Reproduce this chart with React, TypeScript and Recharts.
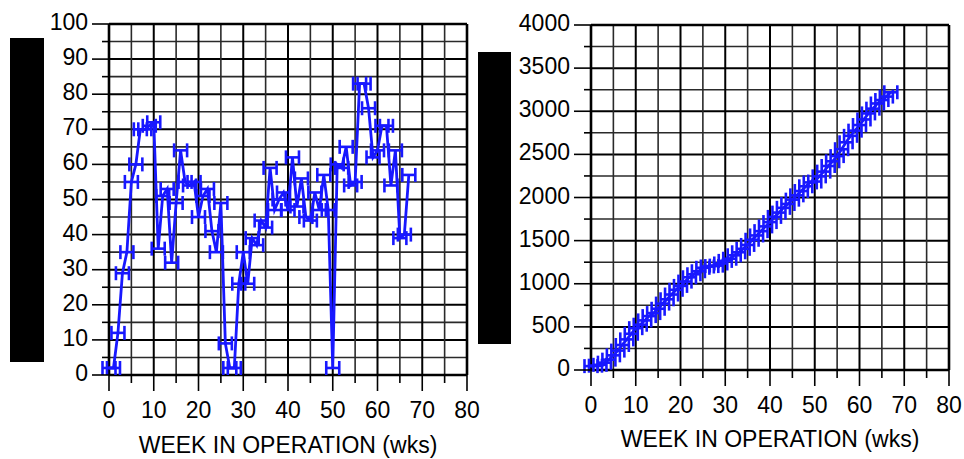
import { ScatterChart, Scatter, XAxis, YAxis, CartesianGrid, ReferenceLine } from 'recharts';

// weeks of operation (both panels share them)
const WEEKS = [
  0, 1, 2, 3, 4, 5, 6, 7, 8, 9, 10, 11, 12, 13, 14, 15, 16, 17, 18, 19, 20, 21, 22, 23,
  24, 25, 26, 27, 28, 29, 30, 31, 32, 33, 34, 35, 36, 37, 38, 39, 40, 41, 42, 43, 44, 45, 46, 47,
  48, 49, 50, 51, 52, 53, 54, 55, 56, 57, 58, 59, 60, 61, 62, 63, 64, 65, 66, 67,
];

// left panel: weekly value
const WEEKLY_VALUES = [
  2, 2, 12, 29, 35, 55, 60, 70, 70, 71, 72, 36, 51, 53, 32, 49, 64, 55, 54, 55, 45, 51, 53, 41,
  35, 49, 9, 2, 2, 26, 35, 26, 39, 37, 44, 42, 59, 47, 50, 52, 47, 62, 48, 56, 45, 44, 52, 47,
  57, 47, 2, 60, 59, 65, 54, 55, 83, 83, 76, 62, 64, 71, 71, 54, 64, 39, 40, 57,
];

// right panel: running total
const CUMULATIVE_VALUES = [
  45, 50, 60, 85, 120, 170, 225, 290, 355, 420, 485, 525, 575, 625, 660, 710, 770, 820, 875, 930,
  975, 1025, 1075, 1110, 1145, 1185, 1200, 1205, 1210, 1235, 1265, 1290, 1330, 1365, 1405, 1450,
  1510, 1560, 1610, 1665, 1715, 1775, 1825, 1880, 1925, 1975, 2025, 2075, 2130, 2175, 2185, 2245,
  2300, 2365, 2420, 2480, 2560, 2640, 2715, 2775, 2840, 2905, 2975, 3030, 3090, 3130, 3170, 3220,
];

const X_TICKS = [0, 5, 10, 15, 20, 25, 30, 35, 40, 45, 50, 55, 60, 65, 70, 75, 80];
const WEEKLY_TICKS = [0, 5, 10, 15, 20, 25, 30, 35, 40, 45, 50, 55, 60, 65, 70, 75, 80, 85, 90, 95, 100];
const CUMULATIVE_TICKS = [
  0, 250, 500, 750, 1000, 1250, 1500, 1750, 2000, 2250, 2500, 2750, 3000, 3250, 3500, 3750, 4000,
];

const X_LABEL = 'WEEK IN OPERATION (wks)';

const BLUE = '#1818ff';
const FONT = '"Liberation Sans", Arial, sans-serif';

const weeklyData = WEEKS.map((week, i) => ({ week, value: WEEKLY_VALUES[i] }));
const cumulativeData = WEEKS.map((week, i) => ({ week, value: CUMULATIVE_VALUES[i] }));

// H-shaped marker: horizontal bar with end caps
function HMark({ cx, cy }: any) {
  if (cx == null || cy == null) return <g />;
  const hw = 6.5;
  const hh = 7;
  return (
    <g stroke={BLUE} strokeWidth={2.6} fill="none">
      <line x1={cx - hw} y1={cy} x2={cx + hw} y2={cy} />
      <line x1={cx - hw} y1={cy - hh} x2={cx - hw} y2={cy + hh} />
      <line x1={cx + hw} y1={cy - hh} x2={cx + hw} y2={cy + hh} />
    </g>
  );
}

function XTick({ x, y, payload }: any) {
  const major = payload.value % 10 === 0;
  return (
    <g>
      <line x1={x} y1={y} x2={x} y2={y + (major ? 16 : 8)} stroke="#000" strokeWidth={1.6} />
      {major && (
        <text x={x} y={y + 43} textAnchor="middle" fontSize={23} fontFamily={FONT} fill="#000">
          {payload.value}
        </text>
      )}
    </g>
  );
}

function makeYTick(step: number) {
  return function YTick({ x, y, payload }: any) {
    const major = payload.value % step === 0;
    return (
      <g>
        <line x1={x - (major ? 17 : 7)} y1={y} x2={x} y2={y} stroke="#000" strokeWidth={1.6} />
        {major && (
          <text x={x - 21} y={y + 6} textAnchor="end" fontSize={23} fontFamily={FONT} fill="#000">
            {payload.value}
          </text>
        )}
      </g>
    );
  };
}

const gridLine = (props: any) => {
  const { x1, y1, x2, y2, index } = props;
  const major = index % 2 === 0;
  return (
    <line
      key={`g-${x1}-${y1}-${x2}-${y2}`}
      x1={x1}
      y1={y1}
      x2={x2}
      y2={y2}
      stroke={major ? '#000' : '#2a2a2a'}
      strokeWidth={major ? 2 : 1.6}
    />
  );
};

interface PanelProps {
  data: { week: number; value: number }[];
  yTicks: number[];
  yMax: number;
  yStep: number;
  yAxisWidth: number;
  xAxisHeight: number;
  top: number;
  right: number;
  width: number;
  labelOffset: number;
}

function Panel({ data, yTicks, yMax, yStep, yAxisWidth, xAxisHeight, top, right, width, labelOffset }: PanelProps) {
  const YTick = makeYTick(yStep);
  return (
    <ScatterChart width={width} height={459} margin={{ top, right, bottom: 0, left: 0 }}>
      <CartesianGrid horizontal={gridLine} vertical={gridLine} />
      <XAxis
        type="number"
        dataKey="week"
        domain={[0, 80]}
        ticks={X_TICKS}
        interval={0}
        tickSize={0}
        tickMargin={0}
        tickLine={false}
        tick={<XTick />}
        height={xAxisHeight}
        axisLine={{ stroke: '#000', strokeWidth: 2.6 }}
        label={{
          value: X_LABEL,
          position: 'insideBottom',
          offset: labelOffset,
          fontSize: 23,
          fontFamily: FONT,
          fill: '#000',
        }}
      />
      <YAxis
        type="number"
        dataKey="value"
        domain={[0, yMax]}
        ticks={yTicks}
        interval={0}
        tickSize={0}
        tickMargin={0}
        tickLine={false}
        tick={<YTick />}
        width={yAxisWidth}
        axisLine={{ stroke: '#000', strokeWidth: 2.6 }}
      />
      <ReferenceLine y={yMax} stroke="#000" strokeWidth={2.6} />
      <ReferenceLine x={80} stroke="#000" strokeWidth={2.6} />
      <Scatter
        data={data}
        line={{ stroke: BLUE, strokeWidth: 2.8 }}
        lineType="joint"
        shape={(p: any) => <HMark cx={p.cx} cy={p.cy} />}
        isAnimationActive={false}
      />
    </ScatterChart>
  );
}

export default function App() {
  return (
    <div style={{ position: 'absolute', left: 0, top: 0, width: 964, height: 459, background: '#fff' }}>
      <div style={{ position: 'absolute', left: 10, top: 38, width: 34, height: 324, background: '#000' }} />
      <div style={{ position: 'absolute', left: 478, top: 52, width: 33, height: 292, background: '#000' }} />
      <div style={{ position: 'absolute', left: 0, top: 0 }}>
        <Panel
          data={weeklyData}
          yTicks={WEEKLY_TICKS}
          yMax={100}
          yStep={10}
          yAxisWidth={109}
          xAxisHeight={84}
          top={24}
          right={23}
          width={490}
          labelOffset={6}
        />
      </div>
      <div style={{ position: 'absolute', left: 470, top: 0 }}>
        <Panel
          data={cumulativeData}
          yTicks={CUMULATIVE_TICKS}
          yMax={4000}
          yStep={500}
          yAxisWidth={121}
          xAxisHeight={89}
          top={25}
          right={15}
          width={494}
          labelOffset={12}
        />
      </div>
    </div>
  );
}
